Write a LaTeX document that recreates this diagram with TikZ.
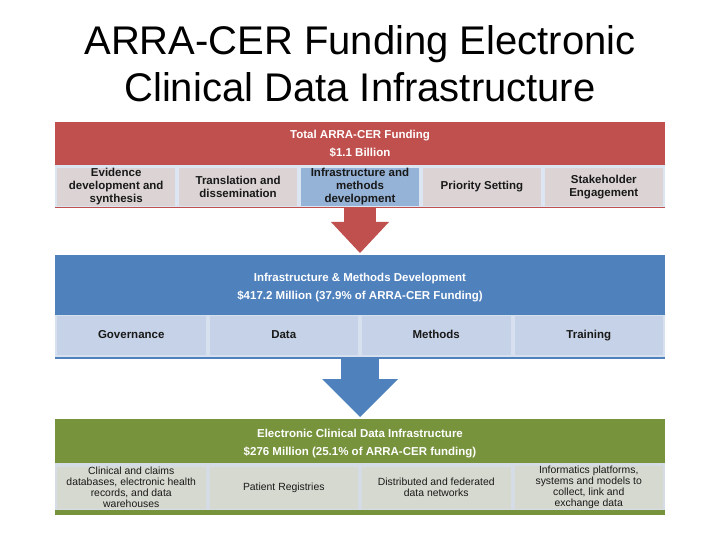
\documentclass[tikz,border=0pt]{standalone}
\usepackage{fontspec}
\setmainfont{Liberation Sans}
\usetikzlibrary{arrows.meta}
\definecolor{cred}{HTML}{C0504D}
\definecolor{cblue}{HTML}{4F81BD}
\definecolor{cgreen}{HTML}{77933C}
\definecolor{rowbgA}{HTML}{DCE6F2}
\definecolor{cellA}{HTML}{DCD4D4}
\definecolor{cellHi}{HTML}{95B3D7}
\definecolor{rowbgB}{HTML}{D6E0EE}
\definecolor{cellB}{HTML}{C6D2E7}
\definecolor{rowbgC}{HTML}{D5DCE5}
\definecolor{cellC}{HTML}{D6D9CF}
\tikzset{
  rect/.style={draw=none, inner sep=0pt, outer sep=0pt, rectangle},
  band/.style={rect, minimum width=610pt},
  headtxt/.style={text=white, font=\bfseries\fontsize{11.5}{18}\selectfont, align=center, inner sep=0pt},
  cellA/.style={rect, fill=cellA, minimum width=118.4pt, minimum height=38pt, align=center,
     font=\bfseries\fontsize{11.5}{13}\selectfont, text=black!90},
  cellB/.style={rect, fill=cellB, minimum width=148.5pt, minimum height=39pt, align=center,
     font=\bfseries\fontsize{11.5}{13}\selectfont, text=black!90, text height=8.5pt, text depth=2.5pt},
  cellC/.style={rect, fill=cellC, minimum width=148.5pt, minimum height=42pt, align=center,
     font=\fontsize{10.4}{11}\selectfont, text=black!90},
  bigarrow/.style={draw, line width=#1, shorten >=2pt}
}
\begin{document}
\begin{tikzpicture}[x=1pt,y=-1pt]
\useasboundingbox (0,0) rectangle (720,540);

% title
\node[align=center, font=\fontsize{40}{47}\selectfont, inner sep=0pt] (title) at (360,64)
  {ARRA-CER Funding Electronic\\Clinical Data Infrastructure};

% red band
\node[band, fill=cred, minimum height=86pt] (redband) at (360,165) {};
\node[headtxt] (redtxt) at (360,144) {Total ARRA-CER Funding\\\$1.1 Billion};
\node[band, fill=rowbgA, minimum height=42pt] (redrow) at (360,186.5) {};
\node[cellA] (a1) at (116.2,187) {Evidence\\development and\\synthesis};
\node[cellA] (a2) at (238.1,187) {Translation and\\dissemination};
\node[cellA, fill=cellHi] (a3) at (360,187) {Infrastructure and\\methods\\development};
\node[cellA] (a4) at (481.9,187) {Priority Setting};
\node[cellA] (a5) at (603.8,187) {Stakeholder\\Engagement};

% blue band
\node[band, fill=cblue, minimum height=104pt] (blueband) at (360,307) {};
\node[headtxt] (bluetxt) at (360,288) {Infrastructure \& Methods Development\\\$417.2 Million (37.9\% of ARRA-CER Funding)};
\node[band, fill=rowbgB, minimum height=42pt] (bluerow) at (360,335.5) {};
\node[cellB] (b1) at (131.25,335.5) {Governance};
\node[cellB] (b2) at (283.75,335.5) {Data};
\node[cellB] (b3) at (436.25,335.5) {Methods};
\node[cellB] (b4) at (588.75,335.5) {Training};

% green band
\node[band, fill=cgreen, minimum height=96pt] (greenband) at (360,467) {};
\node[headtxt] (greentxt) at (360,444) {Electronic Clinical Data Infrastructure\\\$276 Million (25.1\% of ARRA-CER funding)};
\node[band, fill=rowbgC, minimum height=47pt] (greenrow) at (360,486.5) {};
\node[cellC] (g1) at (131.25,487.5) {Clinical and claims\\databases, electronic health\\records, and data\\warehouses};
\node[cellC] (g2) at (283.75,487.5) {Patient Registries};
\node[cellC] (g3) at (436.25,487.5) {Distributed and federated\\data networks};
\node[cellC] (g4) at (588.75,487.5) {Informatics platforms,\\systems and models to\\collect, link and\\exchange data};

% arrows
\draw[bigarrow=32pt, cred, -{Triangle[width=58pt,length=31pt,line width=0pt]}]
  (redband.south -| a3) -- (blueband.north -| a3);
\draw[bigarrow=38pt, cblue, -{Triangle[width=76pt,length=38pt,line width=0pt]}]
  (blueband.south) -- (greenband.north);
\end{tikzpicture}
\end{document}
